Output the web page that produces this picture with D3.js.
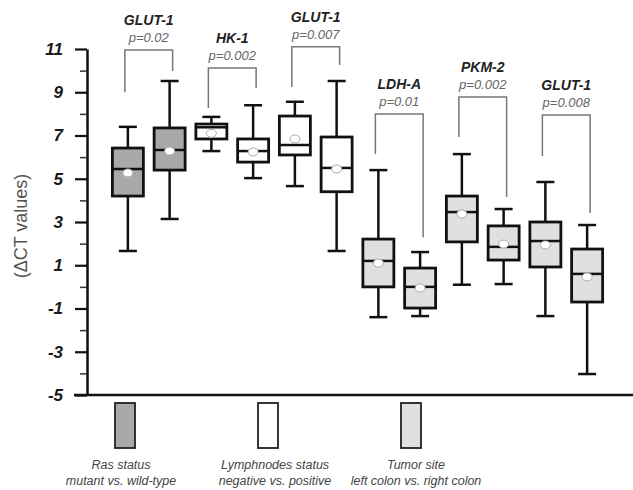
<!DOCTYPE html>
<html>
<head>
<meta charset="utf-8">
<script src="https://cdn.jsdelivr.net/npm/d3@7"></script>
<style>
  body { margin: 0; background: #fff; }
  svg text { font-family: Arial, "Liberation Sans", sans-serif; }
</style>
</head>
<body>
<div id="chart"></div>
<script>
// box order, left to right
const boxIds = ["ras-mut", "ras-wt", "ln-neg-hk", "ln-pos-hk", "ln-neg-glut", "ln-pos-glut",
  "ts-left-ldh", "ts-right-ldh", "ts-left-pkm", "ts-right-pkm", "ts-left-glut", "ts-right-glut"];
const boxGroup = ["ras", "ras", "ln", "ln", "ln", "ln", "ts", "ts", "ts", "ts", "ts", "ts"];
const whiskerLow = [1.66, 3.14, 6.28, 5.03, 4.66, 1.66, -1.4, -1.35, 0.1, 0.13, -1.35, -4.03];
const q1 = [4.2, 5.4, 6.84, 5.77, 6.1, 4.4, 0.0, -0.98, 2.08, 1.24, 0.92, -0.7];
const medians = [5.45, 6.33, 7.38, 6.28, 6.56, 5.5, 1.2, 0.0, 3.46, 1.85, 2.12, 0.6];
const means = [5.27, 6.28, 7.1, 6.24, 6.84, 5.45, 1.1, -0.05, 3.37, 1.98, 1.94, 0.46];
const q3 = [6.42, 7.35, 7.53, 6.84, 7.9, 6.93, 2.21, 0.87, 4.2, 2.82, 3.0, 1.75];
const whiskerHigh = [7.4, 9.52, 7.86, 8.4, 8.56, 9.52, 5.4, 1.61, 6.14, 3.6, 4.85, 2.86];

// comparison brackets
const genes = ["GLUT-1", "HK-1", "GLUT-1", "LDH-A", "PKM-2", "GLUT-1"];
const pValues = ["p=0.02", "p=0.002", "p=0.007", "p=0.01", "p=0.002", "p=0.008"];
const bracketTop = [10.95, 10.12, 11.1, 8.0, 8.78, 7.95];
const bracketLeftEnd = [9.0, 8.27, 9.24, 6.14, 6.93, 6.05];
const bracketRightEnd = [9.98, 9.2, 10.26, 2.3, 4.16, 3.42];

// legend
const groups = ["ras", "ln", "ts"];
const groupLine1 = ["Ras status", "Lymphnodes status", "Tumor site"];
const groupLine2 = ["mutant vs. wild-type", "negative vs. positive", "left colon vs. right colon"];

const yTicks = [-5, -3, -1, 1, 3, 5, 7, 9, 11];
const yMinor = [-4, -2, 0, 2, 4, 6, 8, 10];

const width = 633, height = 490;
const fill = { ras: "#a9a9a9", ln: "#ffffff", ts: "#e0e0e0" };

const svg = d3.select("#chart").append("svg")
  .attr("width", width)
  .attr("height", height);

const y = d3.scaleLinear().domain([-5, 11]).range([395, 49]);
const x = d3.scalePoint().domain(boxIds).range([107, 608]).padding(0.5);
const boxW = 31, capW = 18;

// y axis
const yAxis = svg.append("g")
  .attr("transform", "translate(87,0)")
  .call(d3.axisLeft(y).tickValues(yTicks).tickSize(12).tickSizeOuter(0)
    .tickFormat(d => d));
yAxis.select(".domain").attr("stroke", "#111").attr("stroke-width", 2.5);
yAxis.selectAll(".tick line").attr("stroke", "#111").attr("stroke-width", 2.2);
yAxis.selectAll(".tick text")
  .attr("x", -24)
  .attr("fill", "#1a1a1a")
  .style("font-size", "17px")
  .style("font-weight", "bold")
  .style("font-style", "italic");

const yMinorAxis = svg.append("g")
  .attr("transform", "translate(87,0)")
  .call(d3.axisLeft(y).tickValues(yMinor).tickSize(7).tickFormat(""));
yMinorAxis.select(".domain").remove();
yMinorAxis.selectAll(".tick line").attr("stroke", "#333").attr("stroke-width", 1.5);

// x axis line
svg.append("line")
  .attr("x1", 74).attr("x2", 633)
  .attr("y1", y(-5)).attr("y2", y(-5))
  .attr("stroke", "#111").attr("stroke-width", 2.5);

// y title
svg.append("text")
  .attr("transform", `translate(27,${(y(11) + y(-5)) / 2 + 4}) rotate(-90)`)
  .attr("text-anchor", "middle")
  .attr("fill", "#555")
  .style("font-size", "18px")
  .text("(\u0394CT values)");

// boxes
const boxes = svg.append("g").selectAll("g")
  .data(boxIds)
  .enter().append("g");

boxes.append("line")
  .attr("x1", d => x(d)).attr("x2", d => x(d))
  .attr("y1", (d, i) => y(whiskerHigh[i]))
  .attr("y2", (d, i) => y(whiskerLow[i]))
  .attr("stroke", "#111").attr("stroke-width", 2.5);

boxes.selectAll("line.cap")
  .data((d, i) => [{ id: d, v: whiskerHigh[i] }, { id: d, v: whiskerLow[i] }])
  .enter().append("line")
  .attr("class", "cap")
  .attr("x1", d => x(d.id) - capW / 2).attr("x2", d => x(d.id) + capW / 2)
  .attr("y1", d => y(d.v)).attr("y2", d => y(d.v))
  .attr("stroke", "#111").attr("stroke-width", 2.5);

boxes.append("rect")
  .attr("x", d => x(d) - boxW / 2)
  .attr("y", (d, i) => y(q3[i]))
  .attr("width", boxW)
  .attr("height", (d, i) => y(q1[i]) - y(q3[i]))
  .attr("fill", (d, i) => fill[boxGroup[i]])
  .attr("stroke", "#111").attr("stroke-width", 2.8);

boxes.append("line")
  .attr("x1", d => x(d) - boxW / 2).attr("x2", d => x(d) + boxW / 2)
  .attr("y1", (d, i) => y(medians[i])).attr("y2", (d, i) => y(medians[i]))
  .attr("stroke", "#111").attr("stroke-width", 2.5);

boxes.append("ellipse")
  .attr("cx", d => x(d))
  .attr("cy", (d, i) => y(means[i]))
  .attr("rx", 5).attr("ry", 4)
  .attr("fill", "#fff")
  .attr("stroke", "#aaa").attr("stroke-width", 1);

// brackets with gene name and p value
const pairs = genes.map((g, i) => ({
  gene: g, p: pValues[i],
  left: boxIds[i * 2], right: boxIds[i * 2 + 1],
  top: bracketTop[i], l: bracketLeftEnd[i], r: bracketRightEnd[i]
}));

const br = svg.append("g").selectAll("g")
  .data(pairs)
  .enter().append("g");

br.append("path")
  .attr("d", d => {
    const x1 = x(d.left) - 3, x2 = x(d.right) + 3;
    return `M${x1},${y(d.l)}V${y(d.top)}H${x2}V${y(d.r)}`;
  })
  .attr("fill", "none")
  .attr("stroke", "#777").attr("stroke-width", 1.5);

br.append("text")
  .attr("x", d => (x(d.left) + x(d.right)) / 2)
  .attr("y", d => y(d.top) - 8)
  .attr("text-anchor", "middle")
  .attr("fill", "#666")
  .style("font-size", "13px")
  .style("font-style", "italic")
  .text(d => d.p);

br.append("text")
  .attr("x", d => (x(d.left) + x(d.right)) / 2)
  .attr("y", d => y(d.top) - 25)
  .attr("text-anchor", "middle")
  .attr("fill", "#222")
  .style("font-size", "14px")
  .style("font-weight", "bold")
  .style("font-style", "italic")
  .text(d => d.gene);

// legend
const lx = d3.scalePoint().domain(groups).range([125, 411]);
const leg = svg.append("g").selectAll("g")
  .data(groups)
  .enter().append("g");

leg.append("rect")
  .attr("x", d => lx(d) - 10)
  .attr("y", 403)
  .attr("width", 20).attr("height", 45)
  .attr("fill", d => fill[d])
  .attr("stroke", "#222").attr("stroke-width", 1.8);

leg.append("text")
  .attr("x", (d, i) => lx(d) + [-4, 7, 5][i])
  .attr("y", 469)
  .attr("text-anchor", "middle")
  .attr("fill", "#444")
  .style("font-size", "12.5px")
  .style("font-style", "italic")
  .text((d, i) => groupLine1[i]);

leg.append("text")
  .attr("x", (d, i) => lx(d) + [-4, 7, 5][i])
  .attr("y", 485)
  .attr("text-anchor", "middle")
  .attr("fill", "#444")
  .style("font-size", "12.5px")
  .style("font-style", "italic")
  .text((d, i) => groupLine2[i]);
</script>
</body>
</html>
